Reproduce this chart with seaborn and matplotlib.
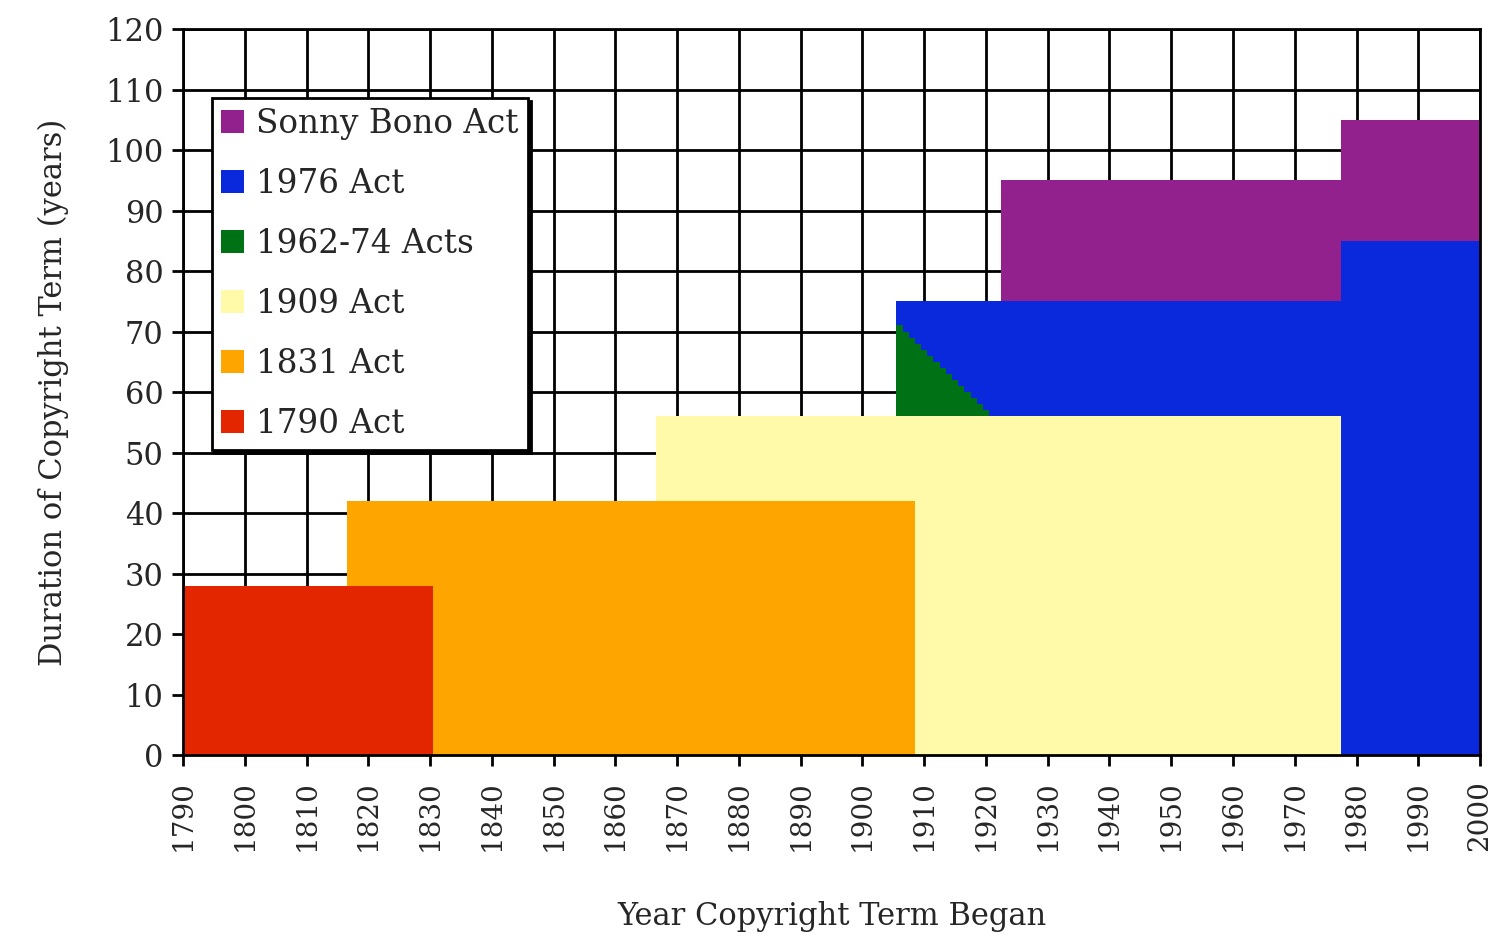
import numpy as np
import matplotlib
matplotlib.use("Agg")
import matplotlib.pyplot as plt
from matplotlib.patches import Patch
import seaborn as sns

# ---- data (stacked increments per act, as (first_year, last_year, years_added)) ----
years = np.arange(1790, 2001)
act_names = ["1790 Act", "1831 Act", "1909 Act", "1962-74 Acts", "1976 Act", "Sonny Bono Act"]
act_colors = ["#E32600", "#FFA500", "#FFFAAA", "#007216", "#0A28DC", "#92218E"]

act1790_segments = [(1790, 1830, 28)]
act1831_segments = [(1817, 1830, 14), (1831, 1908, 42)]
act1909_segments = [(1867, 1908, 14), (1909, 1977, 56)]
green_years = [1906, 1907, 1908, 1909, 1910, 1911, 1912, 1913, 1914, 1915, 1916, 1917, 1918, 1919, 1920]
green_top = [71, 70, 69, 68, 67, 66, 65, 64, 63, 62, 61, 60, 59, 58, 57]
act1976_total_top = [(1906, 1977, 75), (1978, 2000, 85)]
bono_segments = [(1923, 1977, 20), (1978, 2000, 20)]

x_ticks = list(range(1790, 2001, 10))
y_ticks = list(range(0, 121, 10))


def from_segments(segs):
    arr = np.zeros(len(years))
    for a, b, v in segs:
        arr[(years >= a) & (years <= b)] = v
    return arr


s1790 = from_segments(act1790_segments)
s1831 = from_segments(act1831_segments)
s1909 = from_segments(act1909_segments)
s_green = np.zeros(len(years))
for yr, top in zip(green_years, green_top):
    s_green[years == yr] = top - (s1790 + s1831 + s1909)[years == yr]
below_blue = s1790 + s1831 + s1909 + s_green
blue_top = from_segments(act1976_total_top)
s1976 = np.where(blue_top > 0, blue_top - below_blue, 0)
s_bono = from_segments(bono_segments)
series = [s1790, s1831, s1909, s_green, s1976, s_bono]

# step edges: each year's block is centred on the year
xs = np.append(years - 0.5, years[-1] + 0.5)
series_ext = [np.append(s, s[-1]) for s in series]

# ---- style ----
sns.set_style("white")
plt.rcParams["font.family"] = ["DejaVu Serif"]

fig = plt.figure(figsize=(14.92, 9.42), dpi=100)
ax = fig.add_axes([0.1227, 0.1985, 0.8693, 0.7707])

ax.stackplot(xs, *series_ext, step="post", colors=act_colors, linewidth=0, zorder=2)

ax.set_xlim(1790, 2000)
ax.set_ylim(0, 120)
ax.set_xticks(x_ticks)
ax.set_yticks(y_ticks)
ax.set_xticklabels([str(t) for t in x_ticks], rotation=90)
ax.grid(True, color="black", linewidth=2, zorder=0)
ax.set_axisbelow(True)
for sp in ax.spines.values():
    sp.set_visible(True)
    sp.set_color("black")
    sp.set_linewidth(2)
    sp.set_zorder(5)
ax.tick_params(axis="both", direction="out", length=8, width=2, color="black",
               labelsize=22, pad=6, left=True, bottom=True)
ax.tick_params(axis="x", labelsize=20, pad=10)

ax.set_xlabel("Year Copyright Term Began", fontsize=22, labelpad=36)
ax.set_ylabel("Duration of Copyright Term (years)", fontsize=22, labelpad=26)

handles = [Patch(facecolor=c, edgecolor="none") for c in act_colors][::-1]
leg = ax.legend(handles, act_names[::-1], loc="upper left", bbox_to_anchor=(0.022, 0.905),
                fontsize=23.5, frameon=True, fancybox=False, framealpha=1,
                edgecolor="black", handlelength=0.7, handleheight=0.7,
                handletextpad=0.35, labelspacing=0.86, borderpad=0.3, borderaxespad=0,
                shadow={"color": "black", "alpha": 1, "ox": 2, "oy": -2})
leg.get_frame().set_linewidth(2)
leg.set_zorder(10)

fig.savefig("out.png", dpi=100)
